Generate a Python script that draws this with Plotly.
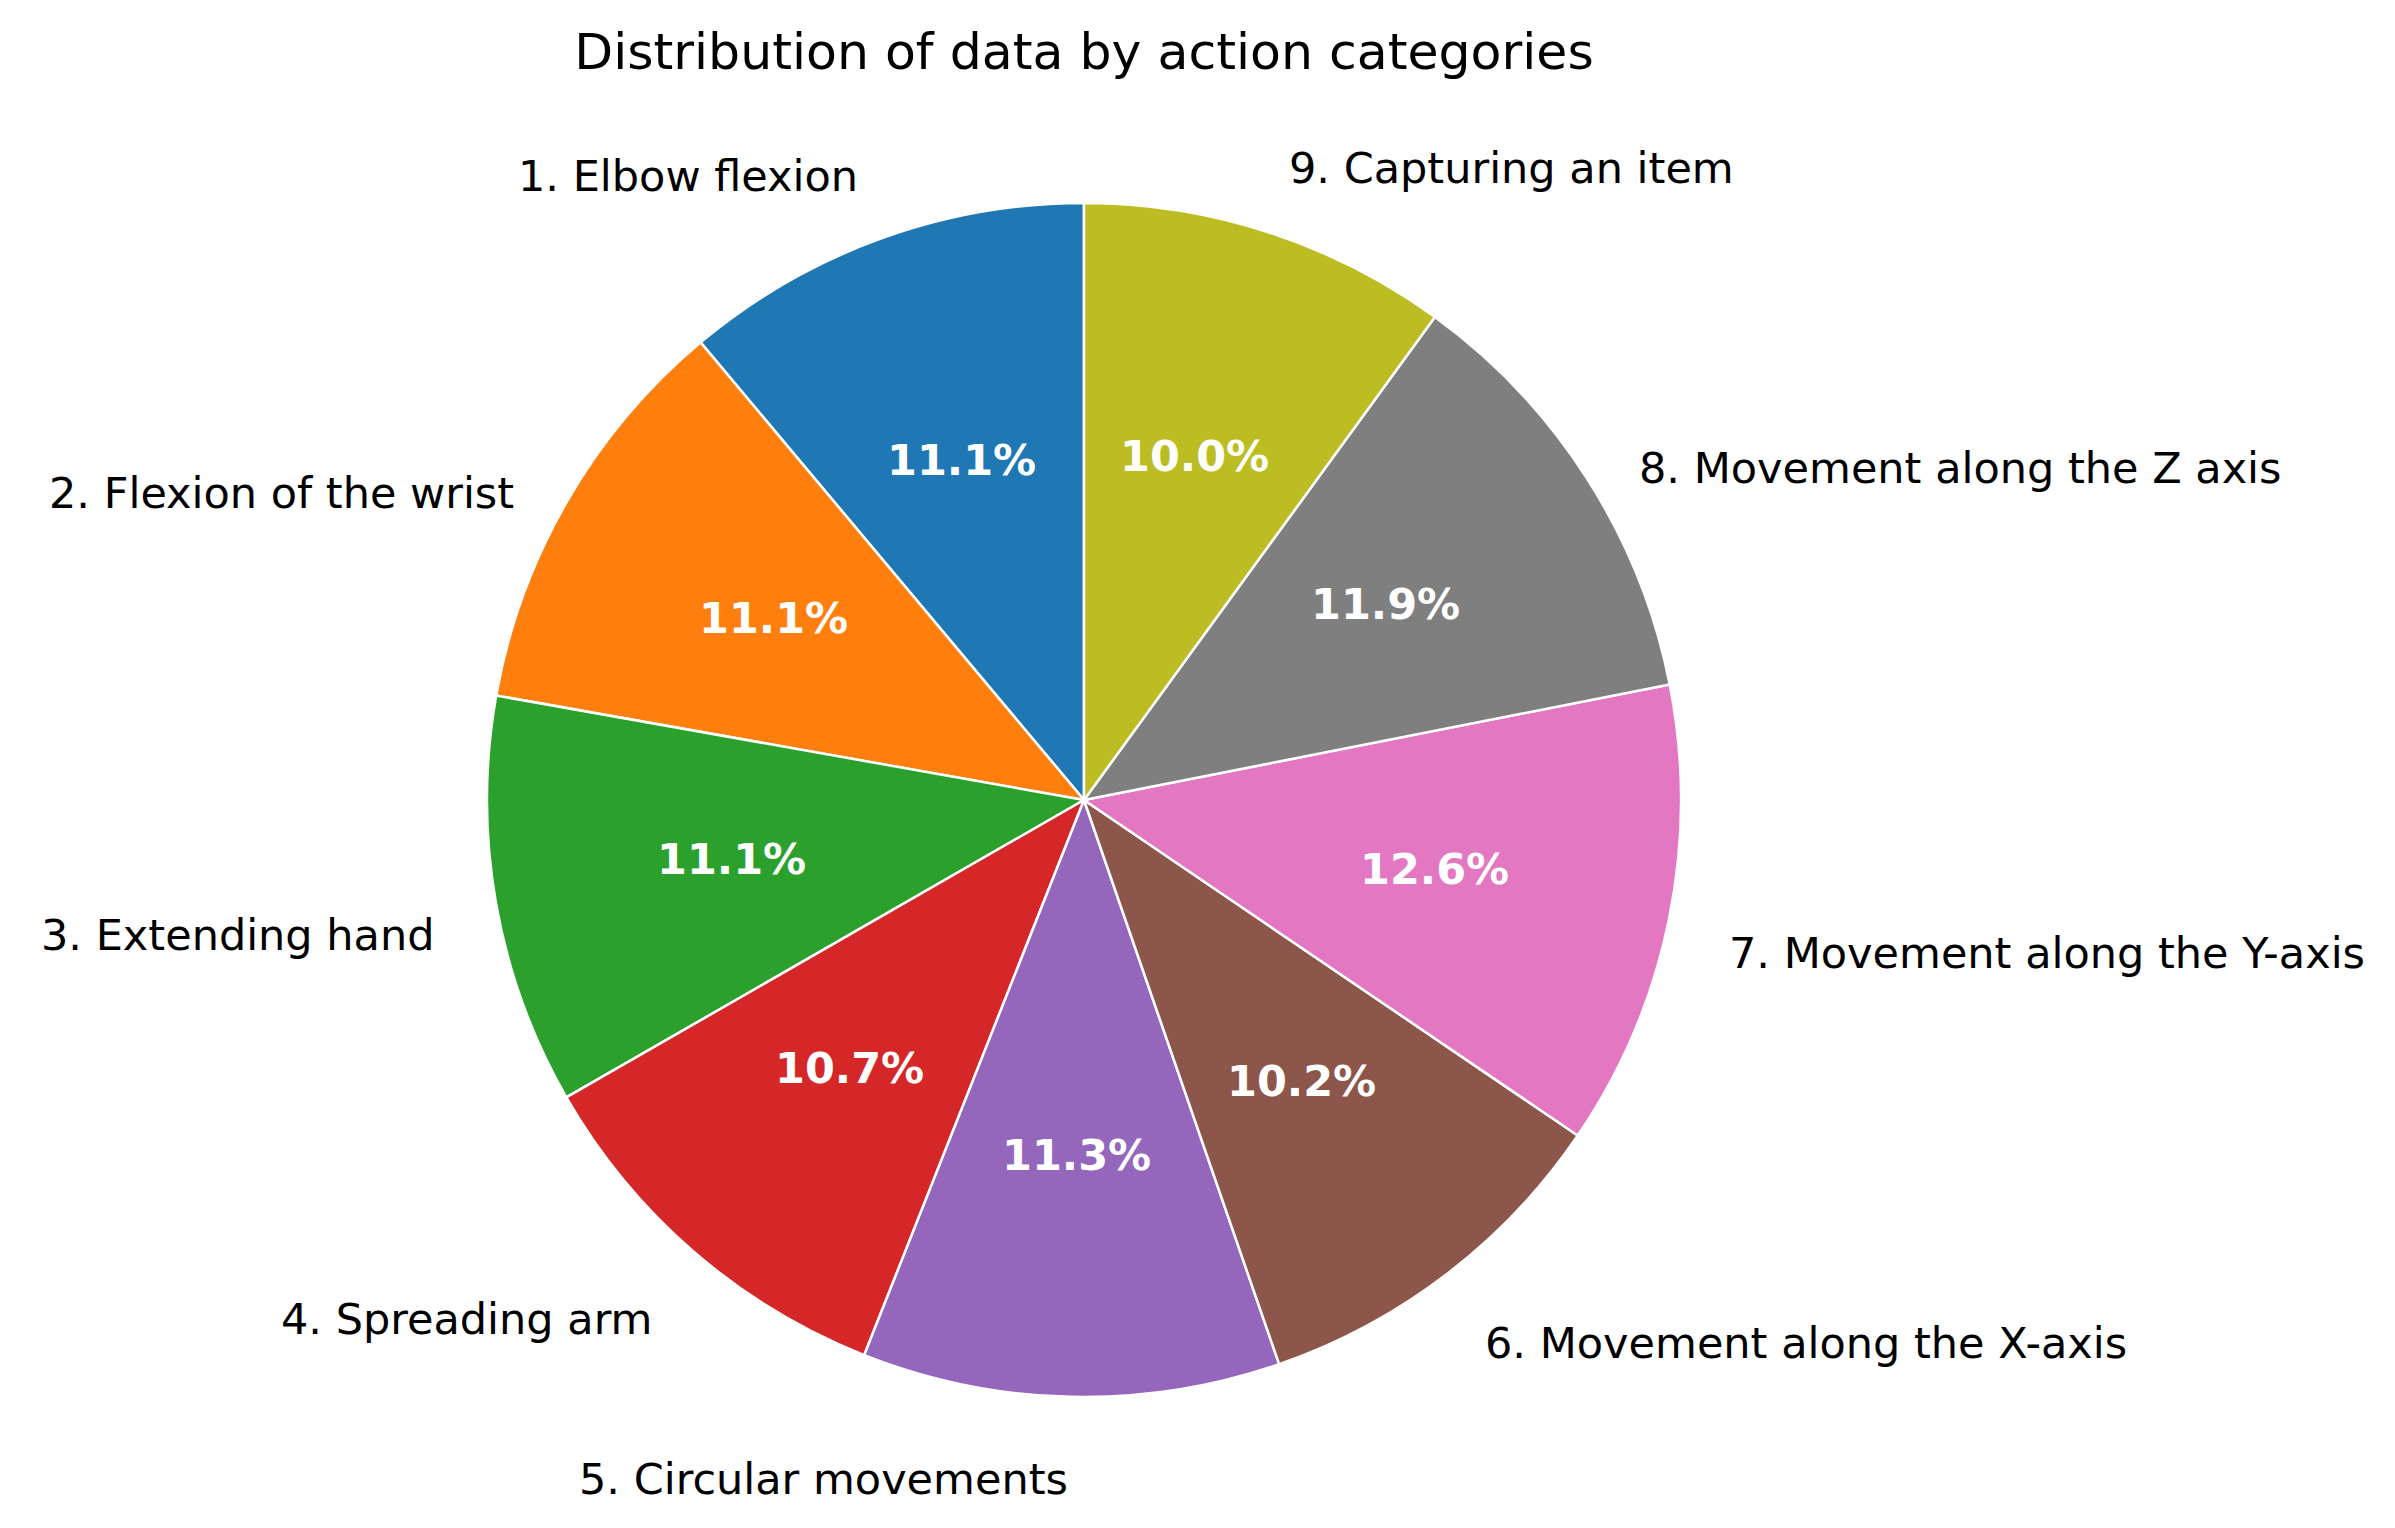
import math
import plotly.graph_objects as go

categories = [
    "1. Elbow flexion",
    "2. Flexion of the wrist",
    "3. Extending hand",
    "4. Spreading arm",
    "5. Circular movements",
    "6. Movement along the X-axis",
    "7. Movement along the Y-axis",
    "8. Movement along the Z axis",
    "9. Capturing an item",
]
shares = [11.1, 11.1, 11.1, 10.7, 11.3, 10.2, 12.6, 11.9, 10.0]
colors = ["#1f77b4", "#ff7f0e", "#2ca02c", "#d62728", "#9467bd",
          "#8c564b", "#e377c2", "#7f7f7f", "#bcbd22"]

W, H = 2395, 1528
# pie placement in pixels
cx, cy, r = 1076, 792, 597

total = sum(shares)

fig = go.Figure(go.Pie(
    labels=categories,
    values=shares,
    sort=False,
    direction="counterclockwise",
    # plotly ends the first slice at `rotation` when counterclockwise
    rotation=-shares[0] / total * 360,
    marker=dict(colors=colors, line=dict(color="white", width=2.5)),
    textinfo="none",
    hoverinfo="label+percent",
    domain=dict(x=[(cx - r) / W, (cx + r) / W],
                y=[(H - cy - r) / H, (H - cy + r) / H]),
    showlegend=False,
))

# outside labels and percentages, placed like matplotlib (labeldistance 1.1, pctdistance 0.6)
start = 90.0
for name, v in zip(categories, shares):
    span = v / total * 360
    mid = math.radians(start + span / 2)
    start += span
    cs, sn = math.cos(mid), math.sin(mid)
    lx, ly = cx + 1.1 * r * cs, cy - 1.1 * r * sn
    # labels near the top sit centred on their point, the rest hang below it
    fig.add_annotation(
        x=lx / W, y=1 - ly / H, xref="paper", yref="paper",
        text=name, showarrow=False,
        xanchor="left" if cs > 0 else "right", yanchor="middle",
        yshift=7 if sn > 0.9 else -22,
        font=dict(size=43, color="black"),
    )
    px_, py_ = cx + 0.6 * r * cs, cy - 0.6 * r * sn
    fig.add_annotation(
        x=px_ / W, y=1 - py_ / H, xref="paper", yref="paper",
        text=f"<b>{v / total * 100:.1f}%</b>", showarrow=False,
        xanchor="center", yanchor="middle", yshift=3,
        font=dict(size=43, color="white"),
    )

fig.update_layout(
    width=W, height=H,
    margin=dict(l=0, r=0, t=0, b=0),
    paper_bgcolor="white",
    font=dict(family="DejaVu Sans"),
    title=dict(text="Distribution of data by action categories",
               x=cx / W, xanchor="center", y=1 - 43 / H, yanchor="middle",
               font=dict(size=50.5, color="black")),
)

fig.write_html("out.html")
